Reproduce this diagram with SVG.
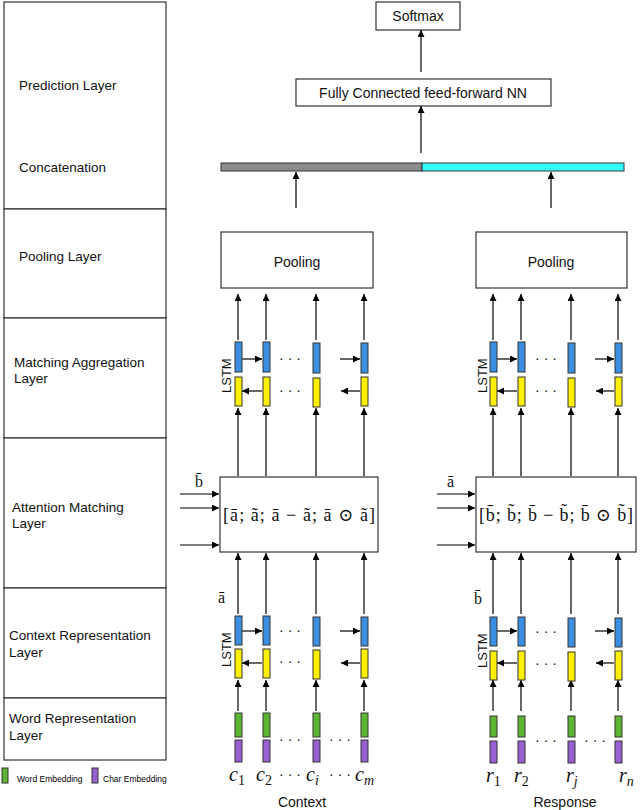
<svg xmlns="http://www.w3.org/2000/svg" width="640" height="810" viewBox="0 0 640 810">
<defs>
<marker id="ah" viewBox="0 0 10 10" refX="10" refY="5" markerWidth="7" markerHeight="7" markerUnits="userSpaceOnUse" orient="auto"><path d="M0,0L10,5L0,10z" fill="#000"/></marker>
<style>
.box{fill:#fff;stroke:#333;stroke-width:1.2}
.lbl{font-family:"Liberation Sans",Arial,sans-serif;font-size:13.5px;fill:#111}
.t{font-family:"Liberation Sans",Arial,sans-serif;font-size:14px;fill:#111;text-anchor:middle}
.m{font-family:"Liberation Serif","DejaVu Serif",serif;fill:#111}
.ar{stroke:#000;stroke-width:1.2;fill:none;marker-end:url(#ah)}
.bl{fill:#3b8ee0;stroke:#333;stroke-width:1}
.ye{fill:#ffef00;stroke:#333;stroke-width:1}
.gr{fill:#5db534;stroke:#333;stroke-width:1}
.pu{fill:#9a5fd0;stroke:#333;stroke-width:1}
.dots{font-family:"Liberation Sans",Arial,sans-serif;font-size:14px;fill:#111;text-anchor:middle}
.ls{font-family:"Liberation Sans",Arial,sans-serif;font-size:13px;fill:#111}
</style>
</defs>
<g id="layers">
<rect class="box" x="4" y="2" width="162" height="207"/>
<text class="lbl" x="19" y="90">Prediction Layer</text>
<text class="lbl" x="19" y="172">Concatenation</text>
<rect class="box" x="4" y="209" width="162" height="109"/>
<text class="lbl" x="19" y="261">Pooling Layer</text>
<rect class="box" x="4" y="318" width="162" height="120"/>
<text class="lbl" x="14" y="367">Matching Aggregation</text>
<text class="lbl" x="14" y="383">Layer</text>
<rect class="box" x="4" y="438" width="162" height="150"/>
<text class="lbl" x="12" y="512">Attention Matching</text>
<text class="lbl" x="12" y="528">Layer</text>
<rect class="box" x="4" y="588" width="162" height="110"/>
<text class="lbl" x="9" y="640">Context Representation</text>
<text class="lbl" x="9" y="657">Layer</text>
<rect class="box" x="4" y="698" width="162" height="62"/>
<text class="lbl" x="9" y="723">Word Representation</text>
<text class="lbl" x="9" y="740">Layer</text>
</g>
<g id="legend">
<rect class="gr" x="2" y="768" width="6" height="15"/>
<text x="17" y="782" style="font-family:'Liberation Sans',Arial,sans-serif;font-size:8.5px">Word Embedding</text>
<rect class="pu" x="92" y="768" width="6" height="15"/>
<text x="103" y="782" style="font-family:'Liberation Sans',Arial,sans-serif;font-size:8.5px">Char Embedding</text>
</g>
<g id="softmax"><rect class="box" x="376" y="2" width="84" height="28"/><text class="t" x="418" y="21">Softmax</text></g>
<g id="fc"><rect class="box" x="296" y="79" width="255" height="27"/><text class="t" x="423" y="98">Fully Connected feed-forward NN</text></g>
<g id="concat"><rect x="221" y="163" width="201" height="8" fill="#8c8c8c" stroke="#333"/><rect x="422" y="163" width="202" height="8" fill="#33ffff" stroke="#333"/></g>
<g id="pool-c"><rect class="box" x="221" y="232" width="152" height="56"/><text class="t" x="297" y="267">Pooling</text></g>
<g id="pool-r"><rect class="box" x="476" y="232" width="151" height="56"/><text class="t" x="551" y="267">Pooling</text></g>
<g id="att-c"><rect class="box" x="220" y="477" width="158" height="75"/><text class="m" x="299" y="521" font-size="18" text-anchor="middle" textLength="152">[ā; ã; ā − ã; ā ⊙ ã]</text>
<text class="m" x="195" y="487" font-size="16">b̄</text><text class="m" x="218" y="603" font-size="16">ā</text></g>
<g id="att-r"><rect class="box" x="476" y="477" width="160" height="75"/><text class="m" x="556" y="521" font-size="18" text-anchor="middle" textLength="154">[b̄; b̃; b̄ − b̃; b̄ ⊙ b̃]</text>
<text class="m" x="447" y="487" font-size="16">ā</text><text class="m" x="474" y="604" font-size="16">b̄</text></g>
<g id="connectors">
<line class="ar" x1="421" y1="72" x2="421" y2="30"/>
<line class="ar" x1="421" y1="153" x2="421" y2="106"/>
<line class="ar" x1="296" y1="208" x2="296" y2="172"/>
<line class="ar" x1="551" y1="208" x2="551" y2="172"/>
</g>
<g id="context-side">
<text transform="translate(231,393) rotate(-90)" class="ls">LSTM</text><text transform="translate(231,667) rotate(-90)" class="ls">LSTM</text>
<line class="ar" x1="238" y1="340" x2="238" y2="294"/><line class="ar" x1="266" y1="340" x2="266" y2="294"/><line class="ar" x1="316" y1="340" x2="316" y2="294"/><line class="ar" x1="364" y1="340" x2="364" y2="294"/>
<line class="ar" x1="238" y1="476" x2="238" y2="408"/><line class="ar" x1="266" y1="476" x2="266" y2="408"/><line class="ar" x1="316" y1="476" x2="316" y2="408"/><line class="ar" x1="364" y1="476" x2="364" y2="408"/>
<line class="ar" x1="241" y1="359" x2="262" y2="359"/><line class="ar" x1="340" y1="359" x2="360" y2="359"/>
<line class="ar" x1="262" y1="391" x2="242" y2="391"/><line class="ar" x1="360" y1="391" x2="341" y2="391"/>
<line class="ar" x1="180" y1="494" x2="219" y2="494"/><line class="ar" x1="180" y1="508" x2="219" y2="508"/><line class="ar" x1="180" y1="545" x2="219" y2="545"/>
<line class="ar" x1="238" y1="614" x2="238" y2="553"/><line class="ar" x1="266" y1="614" x2="266" y2="553"/><line class="ar" x1="316" y1="614" x2="316" y2="553"/><line class="ar" x1="364" y1="614" x2="364" y2="553"/>
<line class="ar" x1="238" y1="711" x2="238" y2="680"/><line class="ar" x1="266" y1="711" x2="266" y2="680"/><line class="ar" x1="316" y1="711" x2="316" y2="680"/><line class="ar" x1="364" y1="711" x2="364" y2="680"/>
<line class="ar" x1="241" y1="631" x2="262" y2="631"/><line class="ar" x1="340" y1="631" x2="360" y2="631"/>
<line class="ar" x1="262" y1="663" x2="242" y2="663"/><line class="ar" x1="360" y1="663" x2="341" y2="663"/>
<rect class="bl" x="235" y="342" width="7" height="30"/><rect class="bl" x="263" y="342" width="7" height="30"/><rect class="bl" x="313" y="343" width="7" height="30"/><rect class="bl" x="361" y="343" width="7" height="30"/>
<rect class="ye" x="235" y="377" width="7" height="29"/><rect class="ye" x="263" y="377" width="7" height="29"/><rect class="ye" x="313" y="378" width="7" height="29"/><rect class="ye" x="361" y="377" width="7" height="29"/>
<rect class="bl" x="235" y="616" width="7" height="29"/><rect class="bl" x="263" y="616" width="7" height="29"/><rect class="bl" x="313" y="617" width="7" height="29"/><rect class="bl" x="361" y="617" width="7" height="29"/>
<rect class="ye" x="235" y="649" width="7" height="29"/><rect class="ye" x="263" y="649" width="7" height="29"/><rect class="ye" x="313" y="650" width="7" height="29"/><rect class="ye" x="361" y="649" width="7" height="29"/>
<rect class="gr" x="235" y="713" width="7" height="24"/><rect class="gr" x="263" y="713" width="7" height="24"/><rect class="gr" x="313" y="713" width="7" height="24"/><rect class="gr" x="361" y="713" width="7" height="24"/>
<rect class="pu" x="235" y="740" width="7" height="22"/><rect class="pu" x="263" y="740" width="7" height="22"/><rect class="pu" x="313" y="740" width="7" height="22"/><rect class="pu" x="361" y="740" width="7" height="22"/>
<text class="dots" x="290" y="363">· · ·</text><text class="dots" x="290" y="395">· · ·</text>
<text class="dots" x="290" y="635">· · ·</text><text class="dots" x="290" y="666">· · ·</text>
<text class="dots" x="290" y="744">· · ·</text><text class="dots" x="340" y="744">· · ·</text>
<text class="m" font-size="20" font-style="italic" x="229" y="781">c<tspan font-size="14" font-style="normal" dy="4">1</tspan></text>
<text class="m" font-size="20" font-style="italic" x="256" y="781">c<tspan font-size="14" font-style="normal" dy="4">2</tspan></text>
<text class="dots" x="290" y="779">· · ·</text>
<text class="m" font-size="20" font-style="italic" x="306" y="781">c<tspan font-size="14" dy="4">i</tspan></text>
<text class="dots" x="340" y="779">· · ·</text>
<text class="m" font-size="20" font-style="italic" x="355" y="781">c<tspan font-size="14" dy="4">m</tspan></text>
<text class="t" x="302" y="807">Context</text>
</g>
<g id="response-side">
<text transform="translate(487,393) rotate(-90)" class="ls">LSTM</text><text transform="translate(487,668) rotate(-90)" class="ls">LSTM</text>
<line class="ar" x1="493" y1="340" x2="493" y2="294"/><line class="ar" x1="521" y1="340" x2="521" y2="294"/><line class="ar" x1="571" y1="340" x2="571" y2="294"/><line class="ar" x1="618" y1="340" x2="618" y2="294"/>
<line class="ar" x1="493" y1="476" x2="493" y2="408"/><line class="ar" x1="521" y1="476" x2="521" y2="408"/><line class="ar" x1="571" y1="476" x2="571" y2="408"/><line class="ar" x1="618" y1="476" x2="618" y2="408"/>
<line class="ar" x1="496" y1="359" x2="517" y2="359"/><line class="ar" x1="595" y1="359" x2="614" y2="359"/>
<line class="ar" x1="517" y1="391" x2="497" y2="391"/><line class="ar" x1="614" y1="391" x2="596" y2="391"/>
<line class="ar" x1="437" y1="494" x2="475" y2="494"/><line class="ar" x1="437" y1="508" x2="475" y2="508"/><line class="ar" x1="437" y1="545" x2="475" y2="545"/>
<line class="ar" x1="493" y1="614" x2="493" y2="553"/><line class="ar" x1="521" y1="614" x2="521" y2="553"/><line class="ar" x1="571" y1="614" x2="571" y2="553"/><line class="ar" x1="618" y1="614" x2="618" y2="553"/>
<line class="ar" x1="493" y1="711" x2="493" y2="680"/><line class="ar" x1="521" y1="711" x2="521" y2="680"/><line class="ar" x1="571" y1="711" x2="571" y2="680"/><line class="ar" x1="618" y1="711" x2="618" y2="680"/>
<line class="ar" x1="496" y1="631" x2="517" y2="631"/><line class="ar" x1="595" y1="631" x2="614" y2="631"/>
<line class="ar" x1="517" y1="663" x2="497" y2="663"/><line class="ar" x1="614" y1="663" x2="596" y2="663"/>
<rect class="bl" x="490" y="342" width="7" height="30"/><rect class="bl" x="518" y="342" width="7" height="30"/><rect class="bl" x="568" y="343" width="7" height="30"/><rect class="bl" x="615" y="343" width="7" height="30"/>
<rect class="ye" x="490" y="377" width="7" height="29"/><rect class="ye" x="518" y="377" width="7" height="29"/><rect class="ye" x="568" y="378" width="7" height="29"/><rect class="ye" x="615" y="377" width="7" height="29"/>
<rect class="bl" x="490" y="617" width="7" height="29"/><rect class="bl" x="518" y="617" width="7" height="29"/><rect class="bl" x="568" y="618" width="7" height="29"/><rect class="bl" x="615" y="618" width="7" height="29"/>
<rect class="ye" x="490" y="651" width="7" height="29"/><rect class="ye" x="518" y="651" width="7" height="29"/><rect class="ye" x="568" y="652" width="7" height="29"/><rect class="ye" x="615" y="651" width="7" height="29"/>
<rect class="gr" x="490" y="716" width="7" height="21"/><rect class="gr" x="518" y="716" width="7" height="21"/><rect class="gr" x="568" y="716" width="7" height="21"/><rect class="gr" x="615" y="716" width="7" height="21"/>
<rect class="pu" x="490" y="741" width="7" height="22"/><rect class="pu" x="518" y="741" width="7" height="22"/><rect class="pu" x="568" y="741" width="7" height="22"/><rect class="pu" x="615" y="741" width="7" height="22"/>
<text class="dots" x="546" y="363">· · ·</text><text class="dots" x="546" y="395">· · ·</text>
<text class="dots" x="546" y="636">· · ·</text><text class="dots" x="546" y="668">· · ·</text>
<text class="dots" x="546" y="745">· · ·</text><text class="dots" x="595" y="745">· · ·</text>
<text class="m" font-size="20" font-style="italic" x="486" y="782">r<tspan font-size="14" font-style="normal" dy="4">1</tspan></text>
<text class="m" font-size="20" font-style="italic" x="514" y="782">r<tspan font-size="14" font-style="normal" dy="4">2</tspan></text>
<text class="m" font-size="20" font-style="italic" x="566" y="782">r<tspan font-size="14" dy="4">j</tspan></text>
<text class="m" font-size="20" font-style="italic" x="619" y="782">r<tspan font-size="14" dy="4">n</tspan></text>
<text class="t" x="565" y="807">Response</text>
</g>
</svg>
